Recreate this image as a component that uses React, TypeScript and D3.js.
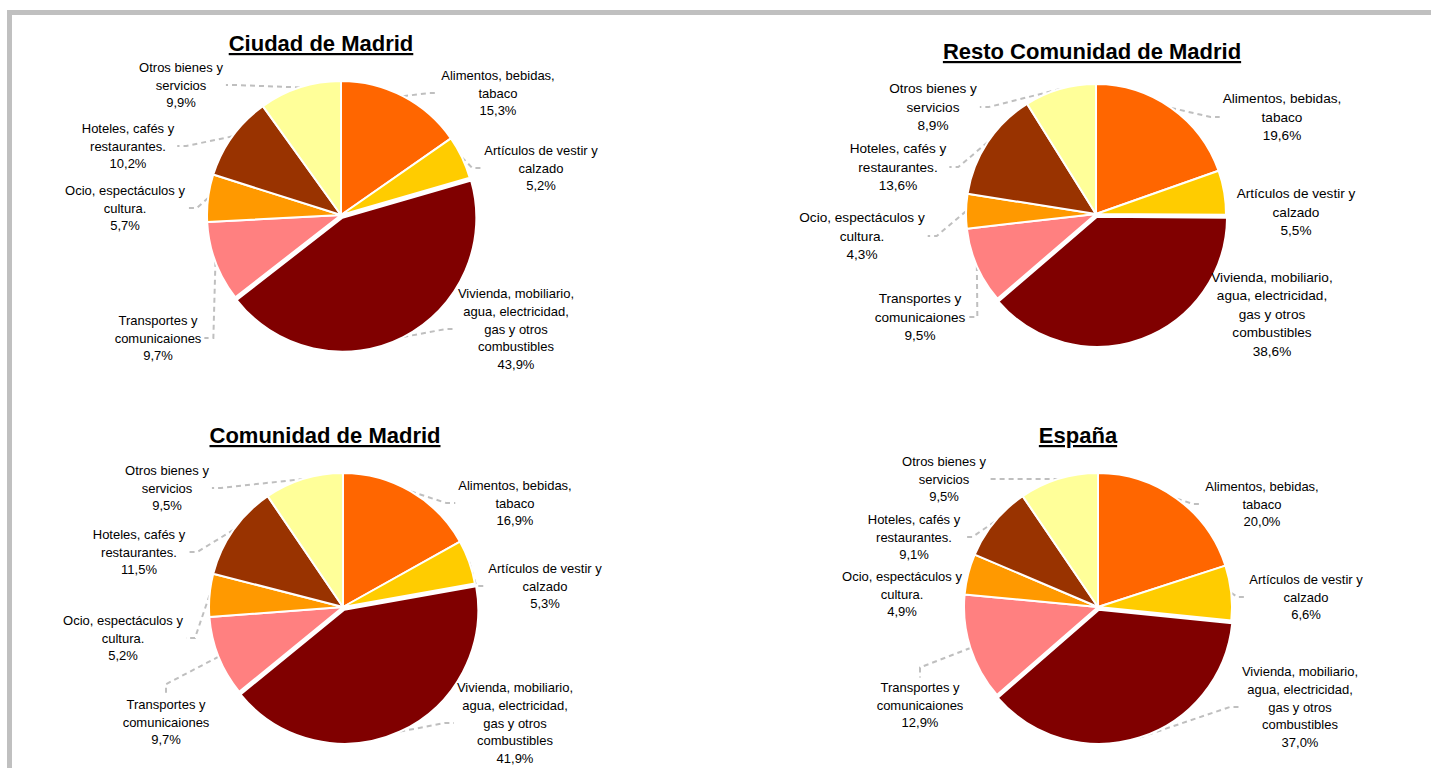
import React from "react";
import * as d3 from "d3";

// ---------- data ----------
const CATEGORY_LINES: string[][] = [
  ["Alimentos, bebidas,", "tabaco"],
  ["Artículos de vestir y", "calzado"],
  ["Vivienda, mobiliario,", "agua, electricidad,", "gas y otros", "combustibles"],
  ["Transportes y", "comunicaiones"],
  ["Ocio, espectáculos y", "cultura."],
  ["Hoteles, cafés y", "restaurantes."],
  ["Otros bienes y", "servicios"],
];
const SLICE_COLORS = ["#FF6600", "#FFCC00", "#800000", "#FF8080", "#FF9900", "#993300", "#FFFF99"];

const TITLES = ["Ciudad de Madrid", "Resto Comunidad de Madrid", "Comunidad de Madrid", "España"];
const CIUDAD_MADRID = [15.3, 5.2, 43.9, 9.7, 5.7, 10.2, 9.9];
const RESTO_COMUNIDAD = [19.6, 5.5, 38.6, 9.5, 4.3, 13.6, 8.9];
const COMUNIDAD_MADRID = [16.9, 5.3, 41.9, 9.7, 5.2, 11.5, 9.5];
const ESPANA = [20.0, 6.6, 37.0, 12.9, 4.9, 9.1, 9.5];
const SERIES = [CIUDAD_MADRID, RESTO_COMUNIDAD, COMUNIDAD_MADRID, ESPANA];

const EXPLODED_INDEX = 2;

// ---------- layout ----------
type LabelPos = [number, number, "left" | "right" | "top", boolean];
interface PanelLayout {
  cx: number; cy: number; r: number;
  titleX: number; titleY: number;
  fontSize: number; lineH: number;
  labels: LabelPos[];
}
const LAYOUTS: PanelLayout[] = [
  {
    cx: 341, cy: 215, r: 134, titleX: 321, titleY: 51, fontSize: 13, lineH: 17.7,
    labels: [
      [498, 93, "left", true], [541, 168, "left", true], [516, 329, "left", true],
      [158, 338, "right", true], [125, 208, "right", true], [128, 146, "right", true], [181, 85, "right", true],
    ],
  },
  {
    cx: 1096, cy: 214, r: 130, titleX: 1092, titleY: 59, fontSize: 13.6, lineH: 18.5,
    labels: [
      [1282, 117, "left", true], [1296, 212, "left", false], [1272, 314, "left", false],
      [920, 317, "right", true], [862, 236, "right", true], [898, 167, "right", true], [933, 107, "right", true],
    ],
  },
  {
    cx: 343, cy: 607, r: 134, titleX: 325, titleY: 443, fontSize: 13, lineH: 17.9,
    labels: [
      [515, 503, "left", true], [545, 586, "left", true], [515, 723, "left", true],
      [166, 722, "top", true], [123, 638, "right", true], [139, 552, "right", true], [167, 488, "right", true],
    ],
  },
  {
    cx: 1098, cy: 607, r: 134, titleX: 1078, titleY: 443, fontSize: 13, lineH: 17.7,
    labels: [
      [1262, 504, "left", true], [1306, 597, "left", true], [1300, 707, "left", true],
      [920, 705, "top", true], [902, 594, "right", false], [914, 537, "right", true], [944, 479, "right", true],
    ],
  },
];

const FONT = '"Liberation Sans", Arial, Helvetica, sans-serif';

let measureCtx: CanvasRenderingContext2D | null = null;
function textWidth(s: string, size: number): number {
  if (!measureCtx) measureCtx = document.createElement("canvas").getContext("2d");
  if (!measureCtx) return s.length * size * 0.5;
  measureCtx.font = `${size}px ${FONT}`;
  return measureCtx.measureText(s).width;
}

const fmt = (v: number) => v.toFixed(1).replace(".", ",") + "%";

function Panel({ idx }: { idx: number }) {
  const L = LAYOUTS[idx];
  const values = SERIES[idx];
  const pie = d3.pie<number>().sort(null).value((d) => d)(values);
  const arc = d3.arc<d3.PieArcDatum<number>>().innerRadius(0).outerRadius(L.r);
  const explode = 3;

  const offsetOf = (i: number) => {
    if (i !== EXPLODED_INDEX) return [0, 0];
    const a = (pie[i].startAngle + pie[i].endAngle) / 2;
    return [explode * Math.sin(a), -explode * Math.cos(a)];
  };

  const leaders: string[] = [];
  const labels = pie.map((p, i) => {
    const [lx, ly, side, hasLeader] = L.labels[i];
    const lines = [...CATEGORY_LINES[i], fmt(values[i])];
    const n = lines.length;
    const w = Math.max(...lines.map((t) => textWidth(t, L.fontSize)));
    if (hasLeader) {
      const a = (p.startAngle + p.endAngle) / 2;
      const [ox, oy] = offsetOf(i);
      const ex = L.cx + ox + L.r * Math.sin(a);
      const ey = L.cy + oy - L.r * Math.cos(a);
      let ax = lx, ay = ly, sx = lx, sy = ly;
      if (side === "left") { ax = lx - w / 2 - 3; sx = ax - 9; sy = ay; }
      else if (side === "right") { ax = lx + w / 2 + 3; sx = ax + 9; sy = ay; }
      else { ay = ly - (n * L.lineH) / 2 - 1; sx = ax; sy = ay - 10; }
      leaders.push(d3.line()([[ex, ey], [sx, sy], [ax, ay]]) as string);
    }
    return (
      <g key={i}>
        {lines.map((t, k) => (
          <text
            key={k}
            x={lx}
            y={ly + (k - (n - 1) / 2) * L.lineH + L.fontSize * 0.35}
            textAnchor="middle"
            fontSize={L.fontSize}
            fontFamily={FONT}
            fill="#000"
          >
            {t}
          </text>
        ))}
      </g>
    );
  });

  return (
    <g>
      <text
        x={L.titleX}
        y={L.titleY}
        textAnchor="middle"
        fontSize={22}
        fontWeight="bold"
        fontFamily={FONT}
        textDecoration="underline"
        fill="#000"
      >
        {TITLES[idx]}
      </text>
      {leaders.map((d, i) => (
        <path key={i} d={d} fill="none" stroke="#BFBFBF" strokeWidth={2} strokeDasharray="5,4" />
      ))}
      <g>
        {pie.map((p, i) => {
          const [ox, oy] = offsetOf(i);
          return (
            <path
              key={i}
              d={arc(p) as string}
              transform={`translate(${L.cx + ox},${L.cy + oy})`}
              fill={SLICE_COLORS[i]}
              stroke="#FFFFFF"
              strokeWidth={2}
              strokeLinejoin="round"
            />
          );
        })}
      </g>
      {labels}
    </g>
  );
}

export default function App() {
  return (
    <svg
      width={1431}
      height={768}
      style={{ position: "absolute", left: 0, top: 0, background: "#fff" }}
    >
      <rect x={0} y={0} width={1431} height={768} fill="#fff" />
      <rect x={9.5} y={12.5} width={1500} height={800} fill="none" stroke="#C0C0C0" strokeWidth={5} />
      {TITLES.map((_, i) => (
        <Panel key={i} idx={i} />
      ))}
    </svg>
  );
}
